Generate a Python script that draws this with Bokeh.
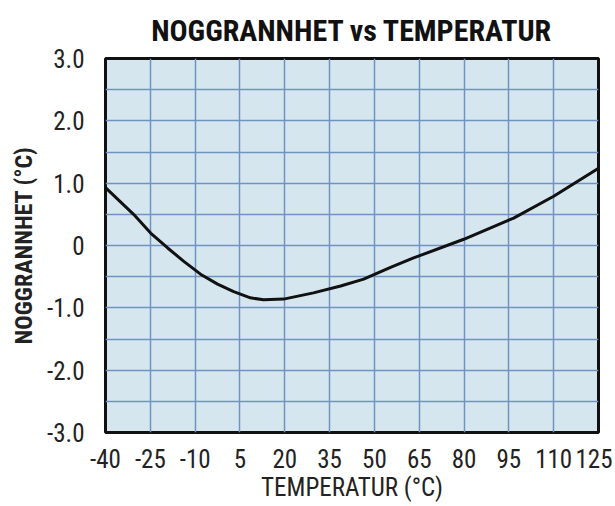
from bokeh.plotting import figure
from bokeh.models import FixedTicker, Range1d
from bokeh.embed import file_html
from bokeh.resources import INLINE

# Data
temp = [-40.0, -30.6, -24.9, -19.2, -13.9, -8.2, -2.5, 2.9, 8.5, 12.9, 19.6, 29.6, 38.7,
        46.4, 55.4, 63.1, 79.9, 96.6, 110.0, 125.0]
accuracy = [0.93, 0.50, 0.20, -0.04, -0.25, -0.46, -0.62, -0.74, -0.84, -0.87, -0.86, -0.76, -0.65,
            -0.54, -0.35, -0.20, 0.10, 0.44, 0.79, 1.24]

x_ticks = [-40, -25, -10, 5, 20, 35, 50, 65, 80, 95, 110, 125]
x_tick_labels = ["-40", "-25", "-10", "5", "20", "35", "50", "65", "80", "95", "110", "125"]
y_ticks = [-3, -2, -1, 0, 1, 2, 3]
y_tick_labels = ["-3.0", "-2.0", "-1.0", "0", "1.0", "2.0", "3.0"]
y_grid = [-2.5, -2, -1.5, -1, -0.5, 0, 0.5, 1, 1.5, 2, 2.5]

FONT = "Roboto Condensed, Liberation Sans Narrow, DejaVu Sans Condensed, sans-serif"

p = figure(width=612, height=506, output_backend="svg", toolbar_location=None,
           x_range=Range1d(-40, 125), y_range=Range1d(-3, 3),
           min_border_left=105, min_border_right=14, min_border_top=57, min_border_bottom=74,
           title="NOGGRANNHET vs TEMPERATUR")

p.title.align = "center"
p.title.text_font = FONT
p.title.text_font_style = "bold"
p.title.text_font_size = "30px"
p.title.text_color = "#111111"
p.title.standoff = 21

p.background_fill_color = "#d6e6ee"
p.border_fill_color = "white"
p.outline_line_color = "#111111"
p.outline_line_width = 3

p.xaxis.ticker = FixedTicker(ticks=x_ticks)
p.yaxis.ticker = FixedTicker(ticks=y_ticks)
p.xaxis.major_label_overrides = {t: l for t, l in zip(x_ticks, x_tick_labels)}
p.yaxis.major_label_overrides = {t: l for t, l in zip(y_ticks, y_tick_labels)}
p.xgrid.ticker = FixedTicker(ticks=x_ticks[1:-1])
p.ygrid.ticker = FixedTicker(ticks=y_grid)
p.xgrid.grid_line_color = "#6f93c2"
p.ygrid.grid_line_color = "#6f93c2"
p.xgrid.grid_line_width = 1.5
p.ygrid.grid_line_width = 1.5

for ax in (p.xaxis, p.yaxis):
    ax.axis_line_color = None
    ax.major_tick_line_color = None
    ax.minor_tick_line_color = None
    ax.major_label_text_font = FONT
    ax.major_label_text_font_size = "25px"
    ax.major_label_text_color = "#222222"
    ax.axis_label_text_font = FONT
    ax.axis_label_text_font_style = "normal"
    ax.axis_label_text_color = "#222222"

p.xaxis.major_label_standoff = 10
p.yaxis.major_label_standoff = 15
p.xaxis.axis_label = "TEMPERATUR (°C)"
p.xaxis.axis_label_text_font_size = "25px"
p.xaxis.axis_label_standoff = 2
p.yaxis.axis_label = "NOGGRANNHET (°C)"
p.yaxis.axis_label_text_font_size = "24px"
p.yaxis.axis_label_text_font_style = "bold"
p.yaxis.axis_label_standoff = 6

p.line(temp, accuracy, line_color="#111111", line_width=3)

open("out.html", "w").write(file_html(p, INLINE))
